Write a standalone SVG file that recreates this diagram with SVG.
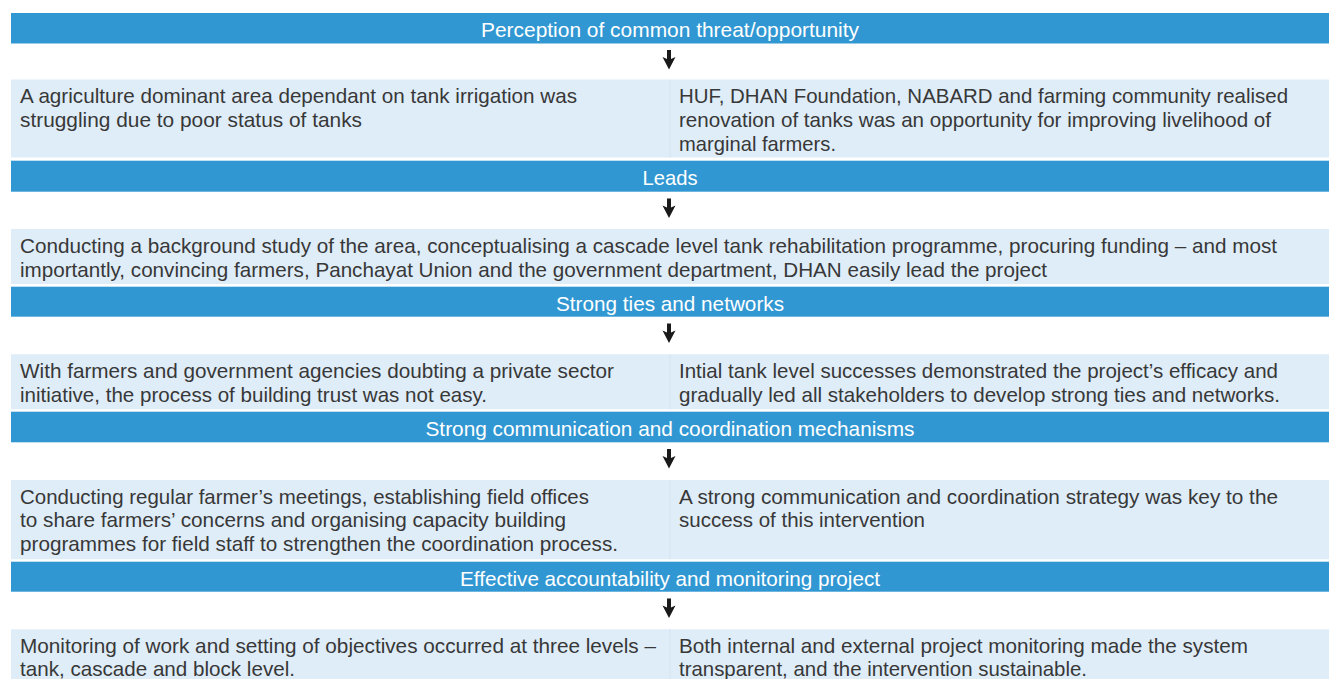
<svg xmlns="http://www.w3.org/2000/svg" width="1333" height="679" viewBox="0 0 1333 679">
<defs>
<style>
.ban{fill:#3197d2}
.box{fill:#dfedf8}
.sep{stroke:#d3e3ef;stroke-width:1}
.bt{font-family:"Liberation Sans",Arial,sans-serif;font-size:20.4px;fill:#ffffff;text-anchor:middle}
.tx{font-family:"Liberation Sans",Arial,sans-serif;font-size:20.4px;fill:#383838}
.arr{fill:#1a1a1a}
</style>
</defs>
<rect width="1333" height="679" fill="#ffffff"/>

<g id="banner-perception">
<rect class="ban" x="11" y="13" width="1318" height="30.5"/>
<text class="bt" x="670" y="37" textLength="378" lengthAdjust="spacingAndGlyphs">Perception of common threat/opportunity</text>
</g>
<g id="box-perception">
<rect class="box" x="11" y="79.5" width="1318" height="78"/>
<line class="sep" x1="670" y1="79.5" x2="670" y2="157.5"/>
<text class="tx" x="20" y="102.5" textLength="557" lengthAdjust="spacingAndGlyphs">A agriculture dominant area dependant on tank irrigation was</text>
<text class="tx" x="20" y="126.8" textLength="342" lengthAdjust="spacingAndGlyphs">struggling due to poor status of tanks</text>
<text class="tx" x="679" y="102.5" textLength="609" lengthAdjust="spacingAndGlyphs">HUF, DHAN Foundation, NABARD and farming community realised</text>
<text class="tx" x="679" y="126.8" textLength="592" lengthAdjust="spacingAndGlyphs">renovation of tanks was an opportunity for improving livelihood of</text>
<text class="tx" x="679" y="151.1" textLength="157" lengthAdjust="spacingAndGlyphs">marginal farmers.</text>
</g>

<g id="banner-leads">
<rect class="ban" x="11" y="160.7" width="1318" height="31"/>
<text class="bt" x="670" y="185" textLength="55" lengthAdjust="spacingAndGlyphs">Leads</text>
</g>
<g id="box-leads">
<rect class="box" x="11" y="229" width="1318" height="55"/>
<text class="tx" x="20" y="252.5" textLength="1257" lengthAdjust="spacingAndGlyphs">Conducting a background study of the area, conceptualising a cascade level tank rehabilitation programme, procuring funding – and most</text>
<text class="tx" x="20" y="277" textLength="1027" lengthAdjust="spacingAndGlyphs">importantly, convincing farmers, Panchayat Union and the government department, DHAN easily lead the project</text>
</g>

<g id="banner-ties">
<rect class="ban" x="11" y="286.7" width="1318" height="30"/>
<text class="bt" x="670" y="310.5" textLength="228" lengthAdjust="spacingAndGlyphs">Strong ties and networks</text>
</g>
<g id="box-ties">
<rect class="box" x="11" y="354.3" width="1318" height="55"/>
<line class="sep" x1="670" y1="354.3" x2="670" y2="409.3"/>
<text class="tx" x="20" y="378" textLength="594" lengthAdjust="spacingAndGlyphs">With farmers and government agencies doubting a private sector</text>
<text class="tx" x="20" y="402" textLength="467" lengthAdjust="spacingAndGlyphs">initiative, the process of building trust was not easy.</text>
<text class="tx" x="679" y="378" textLength="599" lengthAdjust="spacingAndGlyphs">Intial tank level successes demonstrated the project’s efficacy and</text>
<text class="tx" x="679" y="402" textLength="601" lengthAdjust="spacingAndGlyphs">gradually led all stakeholders to develop strong ties and networks.</text>
</g>

<g id="banner-communication">
<rect class="ban" x="11" y="411.7" width="1318" height="30.6"/>
<text class="bt" x="670" y="436" textLength="489" lengthAdjust="spacingAndGlyphs">Strong communication and coordination mechanisms</text>
</g>
<g id="box-communication">
<rect class="box" x="11" y="480" width="1318" height="79.3"/>
<line class="sep" x1="670" y1="480" x2="670" y2="559.3"/>
<text class="tx" x="20" y="503.5" textLength="569" lengthAdjust="spacingAndGlyphs">Conducting regular farmer’s meetings, establishing field offices</text>
<text class="tx" x="20" y="527.3" textLength="546" lengthAdjust="spacingAndGlyphs">to share farmers’ concerns and organising capacity building</text>
<text class="tx" x="20" y="551" textLength="598" lengthAdjust="spacingAndGlyphs">programmes for field staff to strengthen the coordination process.</text>
<text class="tx" x="679" y="503.5" textLength="599" lengthAdjust="spacingAndGlyphs">A strong communication and coordination strategy was key to the</text>
<text class="tx" x="679" y="527.3" textLength="246" lengthAdjust="spacingAndGlyphs">success of this intervention</text>
</g>

<g id="banner-accountability">
<rect class="ban" x="11" y="561.7" width="1318" height="30"/>
<text class="bt" x="670" y="585.8" textLength="420" lengthAdjust="spacingAndGlyphs">Effective accountability and monitoring project</text>
</g>
<g id="box-accountability">
<rect class="box" x="11" y="629.3" width="1318" height="50"/>
<line class="sep" x1="670" y1="629.3" x2="670" y2="679"/>
<text class="tx" x="20" y="652.7" textLength="636" lengthAdjust="spacingAndGlyphs">Monitoring of work and setting of objectives occurred at three levels –</text>
<text class="tx" x="20" y="676" textLength="275" lengthAdjust="spacingAndGlyphs">tank, cascade and block level.</text>
<text class="tx" x="679" y="652.7" textLength="569" lengthAdjust="spacingAndGlyphs">Both internal and external project monitoring made the system</text>
<text class="tx" x="679" y="676" textLength="408" lengthAdjust="spacingAndGlyphs">transparent, and the intervention sustainable.</text>
</g>

<g id="connectors">
<path id="arrow1" class="arr" d="M667,50 H671 V59 L675.5,57 L669,69.5 L662.5,57 L667,59 Z"/>
<path id="arrow2" class="arr" d="M667,198.5 H671 V207.5 L675.5,205.5 L669,218 L662.5,205.5 L667,207.5 Z"/>
<path id="arrow3" class="arr" d="M667,323.5 H671 V332.5 L675.5,330.5 L669,343 L662.5,330.5 L667,332.5 Z"/>
<path id="arrow4" class="arr" d="M667,449 H671 V458 L675.5,456 L669,468.5 L662.5,456 L667,458 Z"/>
<path id="arrow5" class="arr" d="M667,598.5 H671 V607.5 L675.5,605.5 L669,618 L662.5,605.5 L667,607.5 Z"/>
</g>
</svg>
